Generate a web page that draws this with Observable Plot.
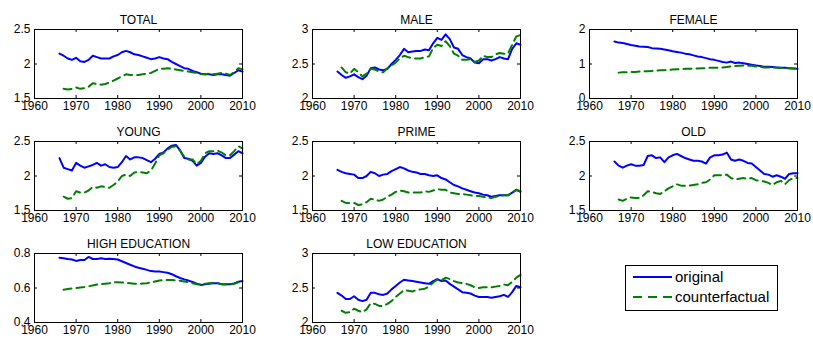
<!DOCTYPE html>
<html>
<head>
<meta charset="utf-8">
<script src="https://cdn.jsdelivr.net/npm/d3@7"></script>
<script src="https://cdn.jsdelivr.net/npm/@observablehq/plot@0.6"></script>
<style>
  html, body { margin: 0; padding: 0; background: #fff; }
  #wrap { position: relative; width: 813px; height: 345px; overflow: hidden; font-family: "Liberation Sans", Arial, sans-serif; }
  #wrap svg.panel { position: absolute; }
  #legend { position: absolute; }
</style>
</head>
<body>
<div id="wrap"></div>
<script>
// ---- data ----
const years = [1966,1967,1968,1969,1970,1971,1972,1973,1974,1975,
               1976,1977,1978,1979,1980,1981,1982,1983,1984,1985,
               1986,1987,1988,1989,1990,1991,1992,1993,1994,1995,
               1996,1997,1998,1999,2000,2001,2002,2003,2004,2005,
               2006,2007,2008,2009,2010];

const xTicks = [1960,1970,1980,1990,2000,2010];

const titles = ["TOTAL","MALE","FEMALE","YOUNG","PRIME","OLD","HIGH EDUCATION","LOW EDUCATION"];

const totalOrig = [2.15,2.12,2.08,2.06,2.09,2.04,2.03,2.06,2.12,2.10, 2.08,2.08,2.08,2.11,2.13,2.17,2.19,2.17,2.14,2.13, 2.11,2.09,2.07,2.08,2.10,2.08,2.07,2.03,2.00,1.97, 1.94,1.93,1.90,1.88,1.86,1.85,1.85,1.84,1.85,1.85, 1.84,1.83,1.87,1.91,1.89];
const totalCf   = [null,1.64,1.63,1.64,1.66,1.64,1.65,1.67,1.72,1.71, 1.70,1.71,1.73,1.76,1.79,1.82,1.85,1.84,1.84,1.84, 1.85,1.86,1.87,1.90,1.93,1.93,1.94,1.93,1.92,1.91, 1.90,1.89,1.88,1.87,1.85,1.85,1.86,1.85,1.86,1.87, 1.86,1.84,1.88,1.94,1.92];

const maleOrig = [2.39,2.34,2.30,2.32,2.35,2.31,2.28,2.33,2.44,2.45, 2.42,2.41,2.43,2.50,2.56,2.63,2.72,2.67,2.68,2.69, 2.69,2.71,2.70,2.80,2.88,2.85,2.93,2.86,2.74,2.72, 2.63,2.60,2.58,2.52,2.51,2.57,2.57,2.55,2.57,2.60, 2.58,2.57,2.72,2.80,2.78];
const maleCf   = [null,2.45,2.38,2.36,2.43,2.38,2.32,2.36,2.43,2.42, 2.39,2.38,2.44,2.48,2.52,2.58,2.62,2.60,2.58,2.58, 2.58,2.60,2.61,2.73,2.78,2.76,2.83,2.76,2.65,2.62, 2.56,2.56,2.57,2.53,2.55,2.62,2.60,2.60,2.64,2.66, 2.65,2.65,2.78,2.90,2.92];

const femaleOrig = [1.65,1.62,1.61,1.58,1.55,1.53,1.51,1.50,1.49,1.46, 1.45,1.44,1.42,1.40,1.37,1.35,1.33,1.30,1.28,1.25, 1.22,1.20,1.17,1.14,1.12,1.09,1.06,1.04,1.07,1.03, 1.04,1.02,1.00,0.98,0.96,0.94,0.92,0.92,0.91,0.90, 0.89,0.89,0.88,0.87,0.86];
const femaleCf   = [null,0.75,0.76,0.76,0.77,0.77,0.78,0.79,0.79,0.80, 0.81,0.82,0.82,0.83,0.84,0.85,0.85,0.86,0.86,0.87, 0.87,0.88,0.88,0.89,0.89,0.89,0.90,0.91,0.93,0.94, 0.95,0.96,0.95,0.95,0.93,0.92,0.90,0.90,0.90,0.89, 0.89,0.88,0.88,0.87,0.87];

const youngOrig = [2.26,2.12,2.10,2.08,2.19,2.15,2.12,2.14,2.16,2.19, 2.15,2.17,2.13,2.12,2.13,2.20,2.29,2.24,2.27,2.27, 2.26,2.23,2.20,2.25,2.32,2.34,2.40,2.44,2.45,2.37, 2.26,2.25,2.22,2.15,2.19,2.28,2.33,2.32,2.33,2.30, 2.26,2.26,2.31,2.36,2.33];
const youngCf   = [null,1.70,1.67,1.68,1.78,1.76,1.76,1.79,1.84,1.83, 1.85,1.84,1.83,1.87,1.92,2.00,2.02,2.00,2.05,2.06, 2.05,2.04,2.08,2.18,2.30,2.33,2.38,2.42,2.43,2.37, 2.28,2.24,2.24,2.17,2.22,2.33,2.36,2.36,2.37,2.34, 2.30,2.30,2.36,2.43,2.40];

const primeOrig = [2.09,2.06,2.04,2.03,2.02,1.97,1.97,2.00,2.06,2.04, 2.00,2.02,2.03,2.07,2.10,2.13,2.11,2.08,2.06,2.05, 2.03,2.03,2.01,2.00,2.01,1.97,1.95,1.91,1.87,1.85, 1.82,1.80,1.78,1.76,1.75,1.73,1.72,1.70,1.71,1.72, 1.72,1.72,1.76,1.80,1.77];
const primeCf   = [null,1.64,1.61,1.61,1.61,1.58,1.59,1.62,1.67,1.66, 1.64,1.66,1.70,1.73,1.77,1.79,1.78,1.76,1.76,1.76, 1.76,1.78,1.77,1.79,1.81,1.80,1.80,1.76,1.75,1.74, 1.74,1.73,1.72,1.71,1.71,1.70,1.69,1.68,1.70,1.71, 1.72,1.72,1.76,1.80,1.78];

const oldOrig = [2.21,2.15,2.12,2.15,2.17,2.15,2.15,2.16,2.29,2.30, 2.26,2.27,2.20,2.27,2.30,2.32,2.29,2.26,2.24,2.22, 2.22,2.21,2.18,2.27,2.30,2.30,2.31,2.34,2.24,2.22, 2.24,2.22,2.19,2.18,2.13,2.08,2.03,2.02,1.99,2.01, 1.99,1.96,2.03,2.04,2.04];
const oldCf   = [null,1.66,1.64,1.67,1.69,1.68,1.68,1.72,1.78,1.77, 1.75,1.74,1.78,1.82,1.85,1.88,1.86,1.86,1.86,1.87, 1.88,1.90,1.91,1.95,2.01,2.01,2.01,2.02,1.97,1.95, 1.96,1.97,1.96,1.97,1.94,1.93,1.92,1.90,1.87,1.91, 1.93,1.88,1.94,1.97,1.97];

const highOrig = [0.775,0.773,0.768,0.765,0.757,0.762,0.762,0.780,0.768,0.768, 0.772,0.768,0.770,0.768,0.765,0.755,0.745,0.735,0.725,0.717, 0.712,0.705,0.698,0.696,0.695,0.692,0.688,0.680,0.668,0.658, 0.650,0.643,0.635,0.625,0.618,0.622,0.625,0.627,0.627,0.622, 0.622,0.622,0.626,0.636,0.640];
const highCf   = [null,0.590,0.594,0.598,0.600,0.603,0.606,0.610,0.615,0.620, 0.622,0.625,0.628,0.632,0.634,0.632,0.630,0.628,0.625,0.624, 0.626,0.628,0.632,0.638,0.643,0.646,0.647,0.646,0.645,0.642, 0.638,0.633,0.628,0.622,0.620,0.624,0.628,0.630,0.628,0.622, 0.620,0.620,0.625,0.633,0.630];

const lowOrig = [2.43,2.39,2.34,2.34,2.38,2.33,2.31,2.33,2.43,2.43, 2.41,2.40,2.42,2.48,2.53,2.58,2.62,2.61,2.60,2.59, 2.58,2.57,2.56,2.60,2.63,2.60,2.61,2.56,2.52,2.48, 2.44,2.43,2.42,2.39,2.37,2.37,2.37,2.36,2.37,2.38, 2.40,2.37,2.44,2.53,2.51];
const lowCf   = [null,2.17,2.14,2.15,2.20,2.17,2.15,2.19,2.28,2.27, 2.24,2.24,2.27,2.31,2.37,2.42,2.47,2.46,2.45,2.47, 2.48,2.49,2.52,2.58,2.62,2.61,2.65,2.63,2.60,2.58, 2.57,2.56,2.54,2.51,2.50,2.51,2.51,2.51,2.52,2.53, 2.55,2.54,2.59,2.65,2.69];

const yDomains = [[1.5,2.5],[2,3],[0,2],[1.5,2.5],[1.5,2.5],[1.5,2.5],[0.4,0.8],[2,3]];
const yTicks   = [[1.5,2,2.5],[2,2.5,3],[0,1,2],[1.5,2,2.5],[1.5,2,2.5],[1.5,2,2.5],[0.4,0.6,0.8],[2,2.5,3]];
const origSeries = [totalOrig, maleOrig, femaleOrig, youngOrig, primeOrig, oldOrig, highOrig, lowOrig];
const cfSeries   = [totalCf, maleCf, femaleCf, youngCf, primeCf, oldCf, highCf, lowCf];
const legendLabels = ["original", "counterfactual"];

// ---- layout ----
const colLeft = [34, 312, 589];
const rowTop = [29, 141, 253];
const boxW = 208, boxH = 69;
const mL = 34, mR = 36, mT = 29, mB = 16;
const BLUE = "#0000ff", GREEN = "#008000";
const FONT = "'Liberation Sans', Arial, Helvetica, sans-serif";

const wrap = document.getElementById("wrap");

titles.forEach((title, i) => {
  const col = i % 3, row = Math.floor(i / 3);
  const rows = years.map((year, j) => ({year, orig: origSeries[i][j], cf: cfSeries[i][j]}));
  const svg = Plot.plot({
    width: mL + boxW + mR,
    height: mT + boxH + mB,
    marginLeft: mL, marginRight: mR, marginTop: mT, marginBottom: mB,
    style: {background: "transparent", overflow: "visible", fontFamily: FONT, fontSize: "12px", color: "#000"},
    x: {domain: [1960, 2010]},
    y: {domain: yDomains[i]},
    marks: [
      Plot.line(rows.filter(d => d.orig != null), {x: "year", y: "orig", stroke: BLUE, strokeWidth: 2}),
      Plot.line(rows.filter(d => d.cf != null), {x: "year", y: "cf", stroke: GREEN, strokeWidth: 2, strokeDasharray: "8,5"}),
      Plot.frame({stroke: "#000", strokeWidth: 1}),
      // inward ticks (MATLAB style), bottom & top
      Plot.tickX(xTicks, {x: d => d, stroke: "#000", insetTop: boxH - 3}),
      Plot.tickX(xTicks, {x: d => d, stroke: "#000", insetBottom: boxH - 3}),
      // inward ticks, left & right
      Plot.tickY(yTicks[i], {y: d => d, stroke: "#000", insetRight: boxW - 3}),
      Plot.tickY(yTicks[i], {y: d => d, stroke: "#000", insetLeft: boxW - 3}),
      Plot.axisX({ticks: xTicks, tickSize: 0, tickPadding: 3, tickFormat: d => String(d), label: null, fontSize: 12}),
      Plot.axisY({ticks: yTicks[i], tickSize: 0, tickPadding: 4, tickFormat: d => String(d), label: null, fontSize: 12}),
      Plot.text([title], {frameAnchor: "top", dy: -14.5, text: d => d, fontSize: 12, fill: "#000"})
    ]
  });
  svg.classList.add("panel");
  svg.style.left = (colLeft[col] - mL) + "px";
  svg.style.top = (rowTop[row] - mT) + "px";
  wrap.appendChild(svg);
});

// ---- legend ----
const ns = "http://www.w3.org/2000/svg";
const leg = document.createElementNS(ns, "svg");
leg.setAttribute("id", "legend");
leg.setAttribute("width", 153);
leg.setAttribute("height", 46);
leg.style.left = "625px";
leg.style.top = "265px";
const rect = document.createElementNS(ns, "rect");
rect.setAttribute("x", 0.5); rect.setAttribute("y", 0.5);
rect.setAttribute("width", 152); rect.setAttribute("height", 45);
rect.setAttribute("fill", "#fff"); rect.setAttribute("stroke", "#000");
leg.appendChild(rect);
legendLabels.forEach((lab, k) => {
  const y = 12 + k * 20;
  const ln = document.createElementNS(ns, "line");
  ln.setAttribute("x1", 8); ln.setAttribute("x2", 47);
  ln.setAttribute("y1", y); ln.setAttribute("y2", y);
  ln.setAttribute("stroke", k === 0 ? BLUE : GREEN);
  ln.setAttribute("stroke-width", 2);
  if (k === 1) ln.setAttribute("stroke-dasharray", "9,6");
  leg.appendChild(ln);
  const t = document.createElementNS(ns, "text");
  t.setAttribute("x", 50); t.setAttribute("y", y);
  t.setAttribute("dy", "0.35em");
  t.setAttribute("font-family", FONT);
  t.setAttribute("font-size", 15);
  t.textContent = lab;
  leg.appendChild(t);
});
wrap.appendChild(leg);
</script>
</body>
</html>
